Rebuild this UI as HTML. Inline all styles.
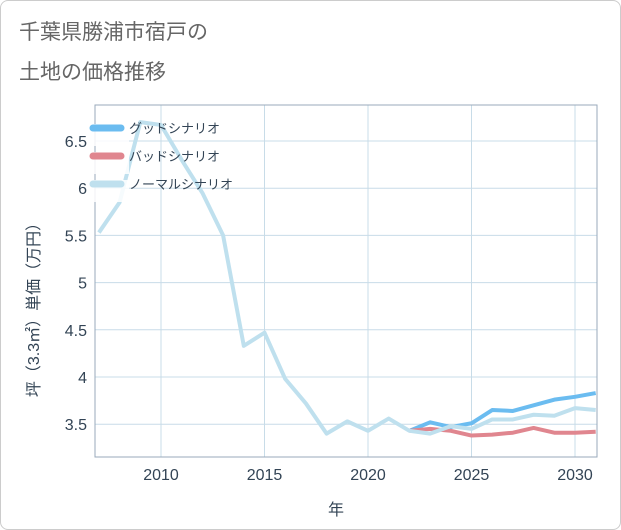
<!DOCTYPE html>
<html><head><meta charset="utf-8"><style>
body{margin:0;background:#fff;font-family:"Liberation Sans","Noto Sans CJK JP",sans-serif;}
#c{position:relative;width:619px;height:528px;border:1px solid #ccc;border-radius:8px;background:#fff;overflow:hidden}
</style></head><body>
<div id="c">
<svg id="s" width="619" height="528"></svg>
</div>
<script>
const years=[2007,2008,2009,2010,2011,2012,2013,2014,2015,2016,2017,2018,2019,2020,2021,2022,2023,2024,2025,2026,2027,2028,2029,2030,2031];
const normal=[5.53,5.85,6.7,6.67,6.3,5.95,5.5,4.33,4.47,3.98,3.72,3.4,3.53,3.43,3.56,3.43,3.4,3.48,3.45,3.55,3.55,3.6,3.59,3.67,3.65];
const fYears=[2022,2023,2024,2025,2026,2027,2028,2029,2030,2031];
const good=[3.43,3.52,3.47,3.51,3.65,3.64,3.7,3.76,3.79,3.83];
const bad=[3.43,3.45,3.43,3.38,3.39,3.41,3.46,3.41,3.41,3.42];
const xTicks=[2010,2015,2020,2025,2030];
const yTicks=[3.5,4,4.5,5,5.5,6,6.5];
const yLabels=["3.5","4","4.5","5","5.5","6","6.5"];
const ns="http://www.w3.org/2000/svg",s=document.getElementById('s');
const L=94,R=596,T=104,B=456;
const X=y=>160+(y-2010)*20.7, Y=v=>140+(6.5-v)*94.4;
function el(t,a,p){const e=document.createElementNS(ns,t);for(const k in a)e.setAttribute(k,a[k]);(p||s).appendChild(e);return e;}
function tx(x,y,str,a){const e=el('text',Object.assign({x:x,y:y,fill:'#555'},a));e.textContent=str;return e;}
let t=tx(18,38,'千葉県勝浦市宿戸の',{'font-size':21,fill:'#666'});
t=tx(18,78,'土地の価格推移',{'font-size':21,fill:'#666'});
xTicks.forEach(v=>{const l=el('line',{x1:X(v),x2:X(v),y1:T,y2:B,stroke:'#c8dce8'});
 const e=tx(X(v),479,String(v),{'font-size':16,'text-anchor':'middle',fill:'#345'});});
yTicks.forEach((v,i)=>{const l=el('line',{x1:L,x2:R,y1:Y(v),y2:Y(v),stroke:'#c8dce8'});
 const e=tx(L-8,Y(v)+6,yLabels[i],{'font-size':16,'text-anchor':'end',fill:'#345'});});
let ax=el('rect',{x:L,y:T,width:R-L,height:B-T,fill:'none',stroke:'#9ab'});
t=tx(335,514,'年',{'font-size':16,'text-anchor':'middle',fill:'#345'});
t=tx(0,0,'坪（3.3㎡）単価（万円）',{'font-size':16,'text-anchor':'middle',fill:'#345',transform:'translate(38,305) rotate(-90)'});
function line(xs,vs,c,n){const p=el('polyline',{points:xs.map((x,i)=>X(x)+','+Y(vs[i])).join(' '),fill:'none',stroke:c,'stroke-width':4,'stroke-linejoin':'round'});}
const g=el('g',{'clip-path':'none'});
line(fYears,good,'#6bbcf0','good-scenario-line');
line(fYears,bad,'#e0868f','bad-scenario-line');
line(years,normal,'#bfe0ee','normal-scenario-line');
[['グッドシナリオ','#6bbcf0',127],['バッドシナリオ','#e0868f',155],['ノーマルシナリオ','#bfe0ee',183]].forEach(d=>{
 const gg=el('g',{});
 el('rect',{x:88,y:d[2]-4,width:40,height:22,fill:'#fff','fill-opacity':0.85},gg);
 el('line',{x1:92,x2:120,y1:d[2],y2:d[2],stroke:d[1],'stroke-width':7,'stroke-linecap':'round'},gg);
 const e=el('text',{x:128,y:d[2]+5,'font-size':13,fill:'#345'},gg);e.textContent=d[0];});
</script>
</body></html>
